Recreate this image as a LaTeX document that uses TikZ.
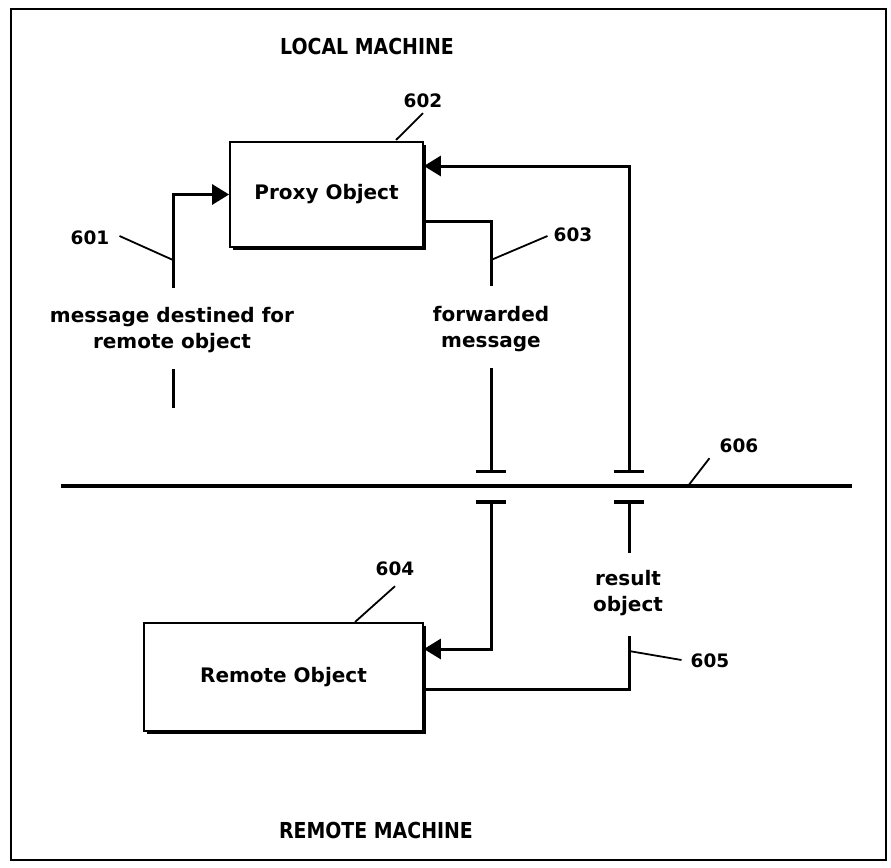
\documentclass[tikz,border=0pt]{standalone}
\usepackage{fontspec}
\usepackage{graphicx}
\setmainfont{DejaVu Sans}
\usetikzlibrary{arrows.meta,shadows,calc}
\begin{document}
\begin{tikzpicture}[x=1pt,y=-1pt,
  lab/.style={font=\bfseries\fontsize{20}{26}\selectfont, align=center, inner sep=0pt},
  num/.style={font=\bfseries\fontsize{18.5}{22}\selectfont, inner sep=0pt},
  head/.style={font=\bfseries\fontsize{22}{24}\selectfont, inner sep=0pt},
  objbox/.style={draw, line width=1.8pt, fill=white, inner sep=0pt,
     font=\bfseries\fontsize{20}{24}\selectfont,
     drop shadow={shadow xshift=3pt, shadow yshift=-3pt, fill=black, opacity=1}},
  conn/.style={line width=3pt},
  tip/.style={-{Triangle[length=17pt,width=20pt]}},
  tbar/.style={-{Bar[width=30pt,line width=3.5pt]}},
  bartip/.style={{Bar[width=30pt,line width=3.5pt]}-{Triangle[length=17pt,width=20pt]}},
  leader/.style={line width=1.8pt},
  frame/.style={line width=2.8pt}
]
\useasboundingbox (0,0) rectangle (891,867);
\draw[frame] (11,9) rectangle (886,860);

% headings
\node[head] (local) at (367,46) {\scalebox{0.86}[1]{LOCAL MACHINE}};
\node[head] (remotem) at (376,830) {\scalebox{0.86}[1]{REMOTE MACHINE}};

% boxes
\node[objbox, minimum width=193pt, minimum height=105pt] (proxy) at (326.5,194.5) {Proxy Object};
\node[objbox, minimum width=279pt, minimum height=108pt] (remote) at (283.5,677) {Remote Object};

% network line
\coordinate (netL) at (61,486);
\coordinate (netR) at (852,486);
\draw[line width=3.5pt] (netL) -- (netR);

% message destined for remote object
\node[lab] (msg) at (172,330.5) {message destined for\\remote object};
\coordinate (m1) at (173,288);
\coordinate (m2) at (173,369);
\coordinate (m3) at (173,408);
\draw[conn, tip] (m1) |- (proxy.west);
\draw[conn] (m2) -- (m3);

% forwarded message
\node[lab] (fwd) at (491,329) {forwarded\\message};
\coordinate (f1) at (491,286);
\coordinate (f2) at (491,368);
\coordinate (f3) at (491,473);
\coordinate (f4) at (491,500);
\draw[conn] ([yshift=-26.5pt]proxy.east) -| (f1);
\draw[conn, tbar] (f2) -- (f3);
\draw[conn, bartip] (f4) |- ([yshift=28pt]remote.east);

% result object
\node[lab] (res) at (628,593) {result\\object};
\coordinate (r1) at (629,636);
\coordinate (r2) at (629,553);
\coordinate (r3) at (629,500);
\coordinate (r4) at (629,473);
\draw[conn] ([yshift=-12pt]remote.east) -| (r1);
\draw[conn, tbar] (r2) -- (r3);
\draw[conn, bartip] (r4) |- ([yshift=28.5pt]proxy.east);

% reference numerals
\node[num] (n601) at (90,238) {601};
\coordinate (l601) at (173,260);
\draw[leader] ($(n601.east)+(10,-2)$) -- (l601);

\node[num] (n602) at (423,101) {602};
\coordinate (l602) at (396,140);
\draw[leader] (l602) -- ($(n602.south)+(0,5)$);

\node[num] (n603) at (573,235) {603};
\coordinate (l603) at (491,260);
\draw[leader] (l603) -- ($(n603.west)+(-6,1)$);

\node[num] (n604) at (395,569) {604};
\coordinate (l604) at (355,622);
\draw[leader] (l604) -- ($(n604.south)+(0,10)$);

\node[num] (n605) at (710,661) {605};
\coordinate (l605) at (629,651);
\draw[leader] (l605) -- ($(n605.west)+(-9,-1)$);

\node[num] (n606) at (739,446) {606};
\coordinate (l606) at (688,486);
\draw[leader] (l606) -- ($(n606.south west)+(-10,5)$);
\end{tikzpicture}
\end{document}
